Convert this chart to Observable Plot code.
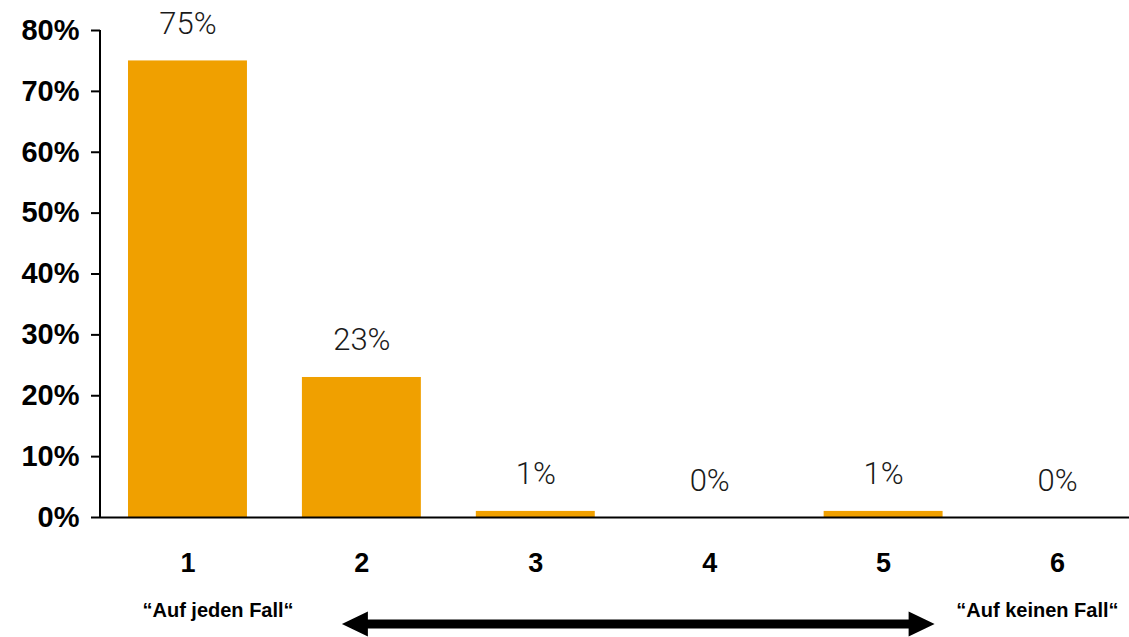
<!DOCTYPE html>
<html>
<head>
<meta charset="utf-8">
<script src="https://cdn.jsdelivr.net/npm/d3@7"></script>
<script src="https://cdn.jsdelivr.net/npm/@observablehq/plot@0.6"></script>
<style>
  html, body { margin: 0; padding: 0; background: #fff; }
  #chart svg { display: block; }
  g[aria-label="value-label"] text { letter-spacing: 2.5px; }
</style>
</head>
<body>
<div id="chart"></div>
<script>
// ---- data ----
const categories = ["1", "2", "3", "4", "5", "6"];
const values = [75, 23, 1, 0, 1, 0];
const yTicks = [0, 10, 20, 30, 40, 50, 60, 70, 80];
const yMax = 80;
const endLabels = ["\u201CAuf jeden Fall\u201C", "\u201CAuf keinen Fall\u201C"];
const endCategories = ["1", "6"];
const arrowFrom = "2";
const arrowTo = "5";

const data = categories.map((c, i) => ({cat: c, value: values[i]}));

const barColor = "#f0a000";
const boldFont = "Liberation Sans, Arial, sans-serif";

function decorations(index, scales, values, dimensions) {
  const x = scales.x, y = scales.y;
  const bw = typeof x.bandwidth === "function" ? x.bandwidth()
    : (scales.scales && scales.scales.x && scales.scales.x.bandwidth) || 0;
  const cx = c => x(c) + bw / 2;
  const {marginLeft} = dimensions;
  const g = d3.create("svg:g");
  // y axis line
  g.append("line")
    .attr("x1", marginLeft).attr("x2", marginLeft)
    .attr("y1", y(yMax)).attr("y2", y(0))
    .attr("stroke", "black").attr("stroke-width", 2);
  // double arrow
  const ay = y(0) + 107;
  const xl = cx(arrowFrom) - 19.5, xr = cx(arrowTo) + 51.5;
  const hl = 26, hh = 12.5, lw = 4.5;
  const pts = [
    [xl, ay], [xl + hl, ay - hh], [xl + hl, ay - lw], [xr - hl, ay - lw],
    [xr - hl, ay - hh], [xr, ay], [xr - hl, ay + hh], [xr - hl, ay + lw],
    [xl + hl, ay + lw], [xl + hl, ay + hh]
  ];
  g.append("path")
    .attr("d", "M" + pts.map(p => p.join(",")).join("L") + "Z")
    .attr("fill", "black");
  return g.node();
}

const chart = Plot.plot({
  width: 1129,
  height: 637,
  marginLeft: 100,
  marginRight: 0,
  marginTop: 30,
  marginBottom: 120,
  style: {fontFamily: boldFont, color: "black", background: "white"},
  x: {domain: categories, range: [100, 1144.5], paddingInner: 0.316, paddingOuter: 0.161, round: false, axis: null},
  y: {domain: [0, yMax], axis: null},
  marks: [
    Plot.barY(data, {x: "cat", y: "value", fill: barColor}),
    Plot.ruleY([0], {stroke: "black", strokeWidth: 2}),
    Plot.axisY({ticks: yTicks, tickFormat: d => d + "%", tickSize: 9, tickPadding: 12,
      fontSize: 29, fontWeight: "bold", strokeWidth: 2, label: null}),
    Plot.axisX({tickSize: 0, tickPadding: 35, fontSize: 27, fontWeight: "bold", label: null}),
    Plot.text(data, {x: "cat", y: "value", text: d => d.value + "%", dy: -27,
      lineAnchor: "bottom", fontSize: 31, fontFamily: "Roboto, sans-serif", fontWeight: 300,
      fill: "#1a1a1a", ariaLabel: "value-label"}),
    Plot.text([endLabels[0]], {x: () => endCategories[0], text: d => d, frameAnchor: "bottom",
      textAnchor: "start", dx: -45.5, dy: 85, lineAnchor: "top", fontSize: 20, fontWeight: "bold"}),
    Plot.text([endLabels[1]], {x: () => endCategories[1], text: d => d, frameAnchor: "bottom",
      textAnchor: "end", dx: 61, dy: 85, lineAnchor: "top", fontSize: 20, fontWeight: "bold"}),
    decorations
  ]
});
document.getElementById("chart").append(chart);
</script>
</body>
</html>
